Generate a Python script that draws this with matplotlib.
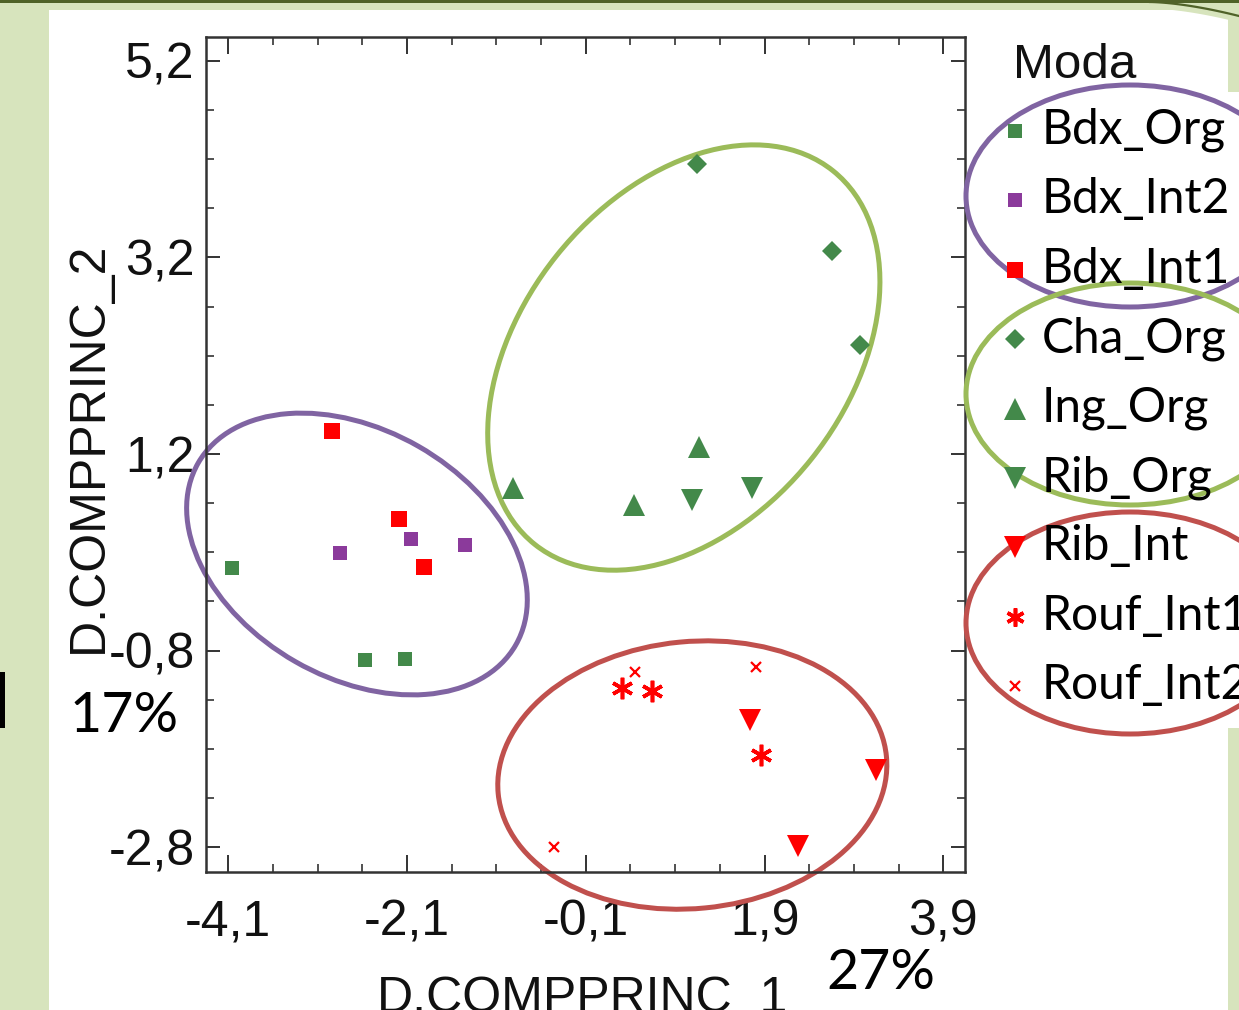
import matplotlib
matplotlib.use("Agg")
import matplotlib.pyplot as plt
import matplotlib.transforms as mtransforms
from matplotlib.patches import Ellipse, Rectangle
from matplotlib.ticker import FixedLocator
import numpy as np

# ---------------- data ----------------
series_names = ["Bdx_Org", "Bdx_Int2", "Bdx_Int1", "Cha_Org", "Ing_Org",
                "Rib_Org", "Rib_Int", "Rouf_Int1", "Rouf_Int2"]

bdx_org_x = [-4.06, -2.57, -2.12]
bdx_org_y = [0.04, -0.90, -0.88]
bdx_int2_x = [-2.85, -2.05, -1.45]
bdx_int2_y = [0.19, 0.34, 0.27]
bdx_int1_x = [-2.94, -2.19, -1.91]
bdx_int1_y = [1.43, 0.54, 0.05]
cha_org_x = [1.15, 2.65, 2.97]
cha_org_y = [4.15, 3.26, 2.31]
ing_org_x = [-0.91, 0.44, 1.17]
ing_org_y = [0.85, 0.68, 1.27]
rib_org_x = [1.09, 1.76]
rib_org_y = [0.73, 0.85]
rib_int_x = [1.74, 3.15, 2.28]
rib_int_y = [-1.51, -2.01, -2.79]
rouf_int1_x = [0.31, 0.64, 1.86]
rouf_int1_y = [-1.18, -1.21, -1.86]
rouf_int2_x = [0.45, 1.81, -0.46]
rouf_int2_y = [-1.02, -0.97, -2.80]

x_ticks = [-4.1, -2.1, -0.1, 1.9, 3.9]
x_tick_labels = ["-4,1", "-2,1", "-0,1", "1,9", "3,9"]
y_ticks = [-2.8, -0.8, 1.2, 3.2, 5.2]
y_tick_labels = ["-2,8", "-0,8", "1,2", "3,2", "5,2"]

x_label = "D.COMPPRINC_1"
y_label = "D.COMPPRINC_2"
legend_title = "Moda"
x_pct = "27%"
y_pct = "17%"

# ---------------- styles ----------------
GREEN = "#43894a"
PURPLE = "#8b3a9b"
RED = "#ff0000"
E_PURPLE = "#8064a2"
E_GREEN = "#9bbb59"
E_RED = "#c0504d"
BG_GREEN = "#d7e4bd"

styles = [
    dict(marker="s", color=GREEN, ms=10, mew=0),
    dict(marker="s", color=PURPLE, ms=10, mew=0),
    dict(marker="s", color=RED, ms=11.5, mew=0),
    dict(marker="D", color=GREEN, ms=10.5, mew=0),
    dict(marker="^", color=GREEN, ms=16, mew=0),
    dict(marker="v", color=GREEN, ms=16, mew=0),
    dict(marker="v", color=RED, ms=16, mew=0),
    dict(marker=(6, 2, 0), color=RED, ms=15.5, mew=2.6),
    dict(marker="x", color=RED, ms=7.5, mew=1.6),
]
series_x = [bdx_org_x, bdx_int2_x, bdx_int1_x, cha_org_x, ing_org_x,
            rib_org_x, rib_int_x, rouf_int1_x, rouf_int2_x]
series_y = [bdx_org_y, bdx_int2_y, bdx_int1_y, cha_org_y, ing_org_y,
            rib_org_y, rib_int_y, rouf_int1_y, rouf_int2_y]

W, H = 1239, 1010
fig = plt.figure(figsize=(W / 100, H / 100), dpi=100)
fig.patch.set_facecolor(BG_GREEN)

# background decorations (pixel coordinates)
ax_bg = fig.add_axes([0, 0, 1, 1], zorder=-10)
ax_bg.set_xlim(0, W)
ax_bg.set_ylim(H, 0)
ax_bg.axis("off")
ax_bg.add_patch(Rectangle((49, 10), W - 49, H - 10, facecolor="white", edgecolor="none"))
ax_bg.add_patch(Rectangle((1228, 10), 11, 82, facecolor=BG_GREEN, edgecolor="none"))
ax_bg.add_patch(Rectangle((1228, 728), 11, H - 728, facecolor=BG_GREEN, edgecolor="none"))
cx_ = np.linspace(1150, 1239, 40)
ax_bg.fill_between(cx_, 0, 2 + 14 * ((cx_ - 1150) / 89) ** 1.6 + 6, color=BG_GREEN, lw=0)
ax_bg.add_patch(Rectangle((0, 0), W, 3, facecolor="#4f6228", edgecolor="none"))
ax_bg.plot(cx_, 2 + 14 * ((cx_ - 1150) / 89) ** 1.6, color="#4f6228", lw=1.6)
ax_bg.add_patch(Rectangle((0, 672), 5, 56, facecolor="black", edgecolor="none"))

# main axes
L, R, T, B = 206, 965, 36.7, 871.7
ax = fig.add_axes([L / W, (H - B) / H, (R - L) / W, (B - T) / H], zorder=0)
ax.set_facecolor("white")
ax.set_xlim(-4.349, 4.143)
ax.set_ylim(-3.048, 5.444)

for xs, ys, st in zip(series_x, series_y, styles):
    ax.plot(xs, ys, linestyle="none", marker=st["marker"], color=st["color"],
            markersize=st["ms"], markeredgewidth=st["mew"],
            markeredgecolor=st["color"], clip_on=False, zorder=3)

ax.xaxis.set_major_locator(FixedLocator(x_ticks))
ax.yaxis.set_major_locator(FixedLocator(y_ticks))
ax.set_xticklabels(x_tick_labels)
ax.set_yticklabels(y_tick_labels)
ax.xaxis.set_minor_locator(FixedLocator([v + k * 0.5 for v in x_ticks[:-1] for k in (1, 2, 3)]))
ax.yaxis.set_minor_locator(FixedLocator([v + k * 0.5 for v in y_ticks[:-1] for k in (1, 2, 3)]))

for lab in ax.get_xticklabels() + ax.get_yticklabels():
    lab.set_fontfamily("Liberation Sans")
    lab.set_fontsize(36)
    lab.set_color("#111111")

ax.tick_params(which="both", direction="in", top=True, right=True, color="#333333")
ax.tick_params(axis="x", which="major", length=12, width=1.4, pad=20)
ax.tick_params(axis="y", which="major", length=10, width=1.4, pad=8)
ax.tick_params(which="minor", length=6, width=1.2)
for sp in ax.spines.values():
    sp.set_linewidth(1.8)
    sp.set_color("#333333")

ax.set_xlabel(x_label, fontfamily="Liberation Sans", fontsize=36, color="#111111")
ax.xaxis.label.set_va("baseline")
ax.xaxis.set_label_coords((583 - L) / (R - L), (B - 1012) / (B - T))
ax.set_ylabel(y_label, fontfamily="Liberation Sans", fontsize=36, color="#111111")
ax.yaxis.set_label_coords((112 - L) / (R - L), 0.5 + 7 / (B - T))

# group ellipses in the plot (centre in data, size in pixels)
plot_ellipses = [
    ((-2.660, 0.183), 366, 248, -29.8, E_PURPLE),
    ((0.997, 2.181), 478, 326, 51.4, E_GREEN),
    ((1.092, -2.065), 390, 267, 5.5, E_RED),
]
for (cx, cy), w, h, ang, col in plot_ellipses:
    tr = fig.dpi_scale_trans + mtransforms.ScaledTranslation(cx, cy, ax.transData)
    ax.add_patch(Ellipse((0, 0), w / 100, h / 100, angle=ang, transform=tr,
                         fill=False, edgecolor=col, lw=3.6, clip_on=False, zorder=2))

# foreground overlay: legend + percentages
ax_fg = fig.add_axes([0, 0, 1, 1], zorder=10)
ax_fg.set_xlim(0, W)
ax_fg.set_ylim(H, 0)
ax_fg.axis("off")
ax_fg.patch.set_alpha(0)

ax_fg.text(1013, 78, legend_title, fontfamily="Liberation Sans", fontsize=35.5,
           color="#111111", va="baseline", ha="left")
leg_ms_scale = [1.0, 1.0, 1.0, 1.0, 1.0, 1.0, 1.0, 0.85, 1.0]
for i, (name, st) in enumerate(zip(series_names, styles)):
    base = 144 + 69.4 * i
    ax_fg.plot([1015], [base - 13], linestyle="none", marker=st["marker"],
               color=st["color"], markersize=st["ms"] * leg_ms_scale[i],
               markeredgewidth=st["mew"], markeredgecolor=st["color"])
    ax_fg.text(1042, base, name, fontfamily="Lato", fontsize=34.5, color="black",
               va="baseline", ha="left", clip_on=False)

for (cx, cy), col in [((1130, 196), E_PURPLE), ((1130, 394), E_GREEN), ((1130, 623), E_RED)]:
    ax_fg.add_patch(Ellipse((cx, cy), 328, 222, fill=False, edgecolor=col, lw=3.6))

ax_fg.text(70, 732, y_pct, fontfamily="Lato", fontsize=40, color="black", va="baseline")
ax_fg.text(826, 989, x_pct, fontfamily="Lato", fontsize=40, color="black", va="baseline")

fig.savefig("out.png", dpi=100, facecolor=fig.get_facecolor())
